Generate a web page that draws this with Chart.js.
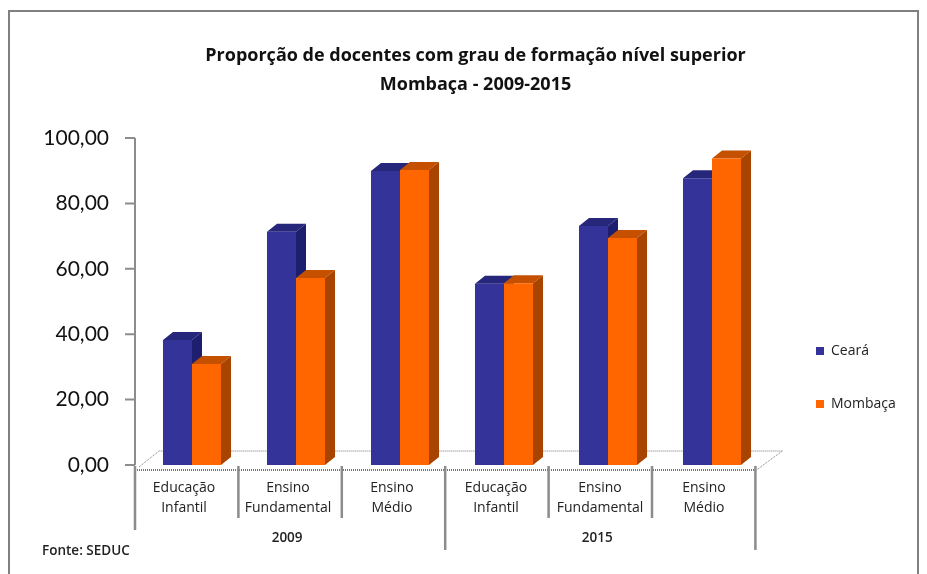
<!DOCTYPE html>
<html>
<head>
<meta charset="utf-8">
<script src="https://cdn.jsdelivr.net/npm/chart.js@4"></script>
<style>
html, body { margin: 0; padding: 0; background: #fff; overflow: hidden; }
#wrap { width: 927px; height: 574px; }
</style>
</head>
<body>
<div id="wrap"><canvas id="barChart"></canvas></div>
<script>
const categories = [['Educação', 'Infantil'], ['Ensino', 'Fundamental'], ['Ensino', 'Médio'], ['Educação', 'Infantil'], ['Ensino', 'Fundamental'], ['Ensino', 'Médio']];
const years = ['2009', '2015'];
const ceara = [38.2, 71.3, 89.9, 55.4, 73.1, 87.7];
const mombaca = [30.9, 57.2, 90.2, 55.6, 69.4, 93.7];
const yTicks = ['0,00', '20,00', '40,00', '60,00', '80,00', '100,00'];
const titleLines = ['Proporção de docentes com grau de formação nível superior', 'Mombaça - 2009-2015'];
const source = 'Fonte: SEDUC';

const fontName = '"Open Sans", Lato, sans-serif';
const textColor = '#222';
const axisGray = '#8c8c8c';

// axis separators do not line up exactly with the bar groups in the original
const axisLeft = 135;
const axisStep = 103.4;
const depthX = 10;
const depthY = 8;

// side and top colours of the fake 3D bars
const shades = [
    { side: '#1e1e6e', top: '#26267a' },
    { side: '#a84400', top: '#c45000' }
];

const chart3d = {
    id: 'chart3d',
    afterLayout(chart) {
        // move title and legend to where the original has them
        const t = chart.titleBlock;
        t.left = 0;
        t.right = 951;
        const l = chart.legend;
        l.left = 777;
        l.right = 940;
        l.top = 305;
        l.bottom = 570;
    },
    beforeDraw(chart) {
        const c = chart.ctx;
        c.save();
        c.strokeStyle = '#808080';
        c.lineWidth = 2;
        c.strokeRect(9, 11, 909, 580);
        c.restore();
    },
    beforeDatasetsDraw(chart) {
        const c = chart.ctx;
        const y0 = chart.scales.y.getPixelForValue(0);
        const y100 = chart.scales.y.getPixelForValue(100);
        const axisRight = axisLeft + axisStep * categories.length + 1;
        const floorY = y0 + 5;
        c.save();

        // floor
        c.strokeStyle = '#777';
        c.lineWidth = 1;
        c.setLineDash([1, 1]);
        c.beginPath();
        c.moveTo(axisLeft + 4, floorY - 3);
        c.lineTo(axisLeft + 24, y0 - 14);
        c.lineTo(axisRight + 26, y0 - 14);
        c.lineTo(axisRight, floorY);
        c.stroke();
        c.lineWidth = 2;
        c.beginPath();
        c.moveTo(axisLeft, floorY);
        c.lineTo(axisRight, floorY);
        c.stroke();
        c.setLineDash([]);

        // y axis line and its ticks
        c.strokeStyle = axisGray;
        c.lineWidth = 2;
        c.beginPath();
        c.moveTo(axisLeft, y100);
        c.lineTo(axisLeft, y0);
        yTicks.forEach((_, i) => {
            const y = chart.scales.y.getPixelForValue(i * 20);
            c.moveTo(axisLeft - 10, y);
            c.lineTo(axisLeft, y);
        });
        c.stroke();

        // separators below the axis, longer ones split the years
        c.lineWidth = 2.5;
        c.beginPath();
        for (let i = 0; i <= categories.length; i++) {
            const x = axisLeft + axisStep * i;
            let end = y0 + 53;
            if (i === 0) end = y0 + 65;
            if (i % 3 === 0 && i > 0) end = y0 + 85;
            c.moveTo(x, y0 + 1);
            c.lineTo(x, end);
        }
        c.stroke();

        // extrusion behind each bar
        chart.data.datasets.forEach((ds, d) => {
            chart.getDatasetMeta(d).data.forEach(bar => {
                const p = bar.getProps(['x', 'y', 'base', 'width'], true);
                const l = p.x - p.width / 2;
                const r = p.x + p.width / 2;
                c.fillStyle = shades[d].top;
                c.beginPath();
                c.moveTo(l, p.y);
                c.lineTo(l + depthX, p.y - depthY);
                c.lineTo(r + depthX, p.y - depthY);
                c.lineTo(r, p.y);
                c.closePath();
                c.fill();
                c.fillStyle = shades[d].side;
                c.beginPath();
                c.moveTo(r, p.y);
                c.lineTo(r + depthX, p.y - depthY);
                c.lineTo(r + depthX, p.base - depthY);
                c.lineTo(r, p.base);
                c.closePath();
                c.fill();
            });
        });
        c.restore();
    },
    afterDraw(chart) {
        const c = chart.ctx;
        c.save();
        c.fillStyle = textColor;
        c.textAlign = 'center';
        c.textBaseline = 'middle';
        c.font = '600 13.5px ' + fontName;
        years.forEach((yr, i) => {
            c.fillText(yr, axisLeft + axisStep * (1.5 + i * 3) - 3, 538);
        });
        c.textAlign = 'left';
        c.font = '600 13.5px ' + fontName;
        c.fillText(source, 42, 551);
        c.restore();
    }
};

new Chart(document.getElementById('barChart'), {
    type: 'bar',
    data: {
        labels: categories,
        datasets: [
            { label: 'Ceará', data: ceara, backgroundColor: '#333399' },
            { label: 'Mombaça', data: mombaca, backgroundColor: '#ff6600' }
        ]
    },
    plugins: [chart3d],
    options: {
        responsive: true,
        maintainAspectRatio: false,
        animation: false,
        layout: { padding: { right: 163 } },
        categoryPercentage: 0.558,
        barPercentage: 1,
        scales: {
            x: {
                grid: { display: false },
                border: { display: false },
                afterFit(scale) { scale.height = 109; },
                ticks: {
                    maxRotation: 0,
                    autoSkip: false,
                    padding: 5,
                    labelOffset: -8,
                    color: textColor,
                    font: { family: fontName, size: 14, lineHeight: 20 / 14 }
                }
            },
            y: {
                min: 0,
                max: 100,
                grid: { display: false },
                border: { display: false },
                afterFit(scale) { scale.width = 140; },
                ticks: {
                    stepSize: 20,
                    padding: 23,
                    color: '#111',
                    font: { family: 'Lato, sans-serif', size: 21 },
                    callback: (v) => yTicks[v / 20]
                }
            }
        },
        plugins: {
            tooltip: { enabled: false },
            title: {
                display: true,
                text: titleLines,
                color: '#111',
                font: { family: fontName, size: 18, weight: 'bold', lineHeight: 29 / 18 },
                padding: { top: 41, bottom: 39 }
            },
            legend: {
                position: 'chartArea',
                align: 'start',
                labels: {
                    boxWidth: 8,
                    boxHeight: 8,
                    padding: 39,
                    color: textColor,
                    font: { family: fontName, size: 14 }
                }
            }
        }
    }
});
</script>
</body>
</html>
